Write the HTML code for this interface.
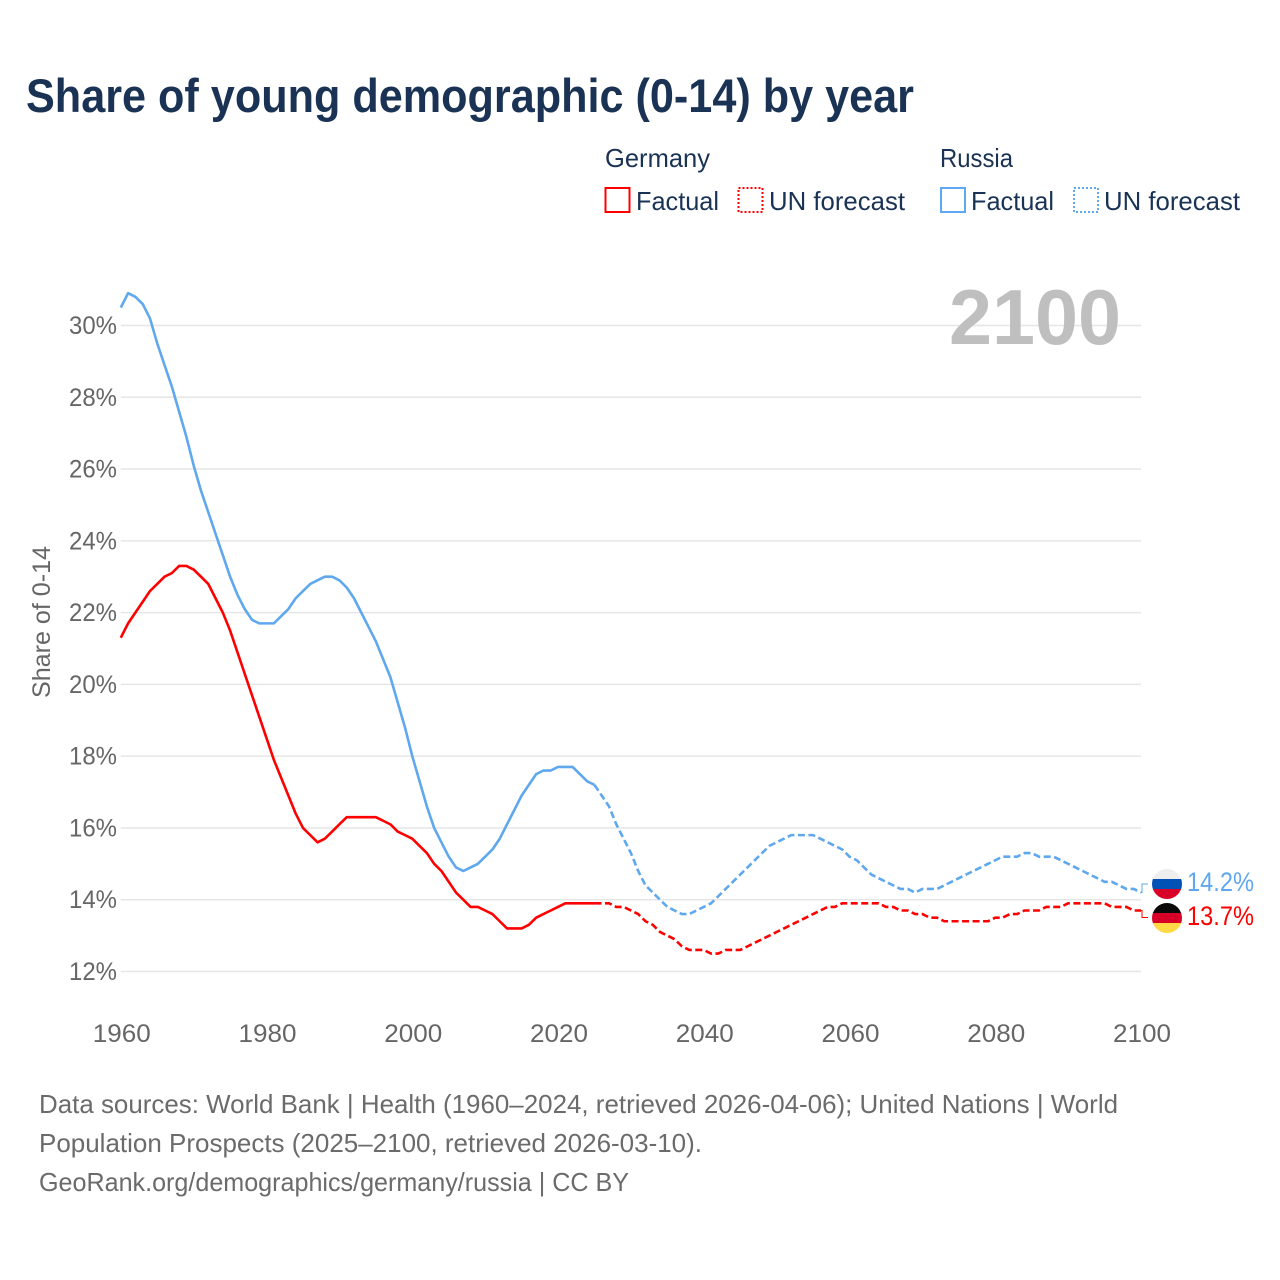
<!DOCTYPE html>
<html lang="en">
<head>
<meta charset="utf-8">
<title>Share of young demographic (0-14) by year</title>
<style>
html,body{margin:0;padding:0;background:#fff;width:1280px;height:1280px;overflow:hidden}
svg{display:block}
text{font-family:"Liberation Sans",sans-serif}
</style>
</head>
<body>
<svg id="chart" xmlns="http://www.w3.org/2000/svg" width="1280" height="1280" viewBox="0 0 1280 1280">
  <defs>
    <clipPath id="clip-ru"><circle cx="1167" cy="884" r="15"/></clipPath>
    <clipPath id="clip-de"><circle cx="1167" cy="918" r="15"/></clipPath>
  </defs>
  <rect width="1280" height="1280" fill="#fff"/>
  <text x="26" y="112" font-size="47" font-weight="700" fill="#1a3354" textLength="888" lengthAdjust="spacingAndGlyphs">Share of young demographic (0-14) by year</text>

  <g font-size="26" fill="#1a3354">
    <text x="605" y="167" textLength="105" lengthAdjust="spacingAndGlyphs">Germany</text>
    <text x="940" y="167" textLength="73" lengthAdjust="spacingAndGlyphs">Russia</text>
    <rect x="605.5" y="188" width="24" height="24" fill="none" stroke="#ff0000" stroke-width="2"/>
    <text x="636" y="210" textLength="83" lengthAdjust="spacingAndGlyphs">Factual</text>
    <rect x="738.5" y="188" width="24" height="24" fill="none" stroke="#ff0000" stroke-width="2" stroke-dasharray="2 2"/>
    <text x="769" y="210" textLength="136" lengthAdjust="spacingAndGlyphs">UN forecast</text>
    <rect x="941" y="188" width="24" height="24" fill="none" stroke="#5fa8ee" stroke-width="2"/>
    <text x="971" y="210" textLength="83" lengthAdjust="spacingAndGlyphs">Factual</text>
    <rect x="1074" y="188" width="24" height="24" fill="none" stroke="#5fa8ee" stroke-width="2" stroke-dasharray="2 2"/>
    <text x="1104" y="210" textLength="136" lengthAdjust="spacingAndGlyphs">UN forecast</text>
  </g>

  <g id="grid"></g>
  <g id="yticks"></g>
  <g id="xticks"></g>

  <text transform="translate(50,622) rotate(-90)" text-anchor="middle" font-size="25" fill="#666666" textLength="152" lengthAdjust="spacingAndGlyphs">Share of 0-14</text>
  <text x="949" y="344" font-size="78" font-weight="700" fill="#bfbfbf" textLength="172" lengthAdjust="spacingAndGlyphs">2100</text>

  <g id="series"></g>

  <g clip-path="url(#clip-ru)">
    <rect x="1152" y="869" width="30" height="10" fill="#eeeeee"/>
    <rect x="1152" y="879" width="30" height="10" fill="#0052b4"/>
    <rect x="1152" y="889" width="30" height="10" fill="#d80027"/>
  </g>
  <g clip-path="url(#clip-de)">
    <rect x="1152" y="903" width="30" height="10" fill="#0a0a0a"/>
    <rect x="1152" y="913" width="30" height="10" fill="#d80027"/>
    <rect x="1152" y="923" width="30" height="10" fill="#ffda44"/>
  </g>
  <text x="1187" y="891" font-size="27" fill="#5fa8ee" textLength="67" lengthAdjust="spacingAndGlyphs">14.2%</text>
  <text x="1187" y="925" font-size="27" fill="#ff0000" textLength="67" lengthAdjust="spacingAndGlyphs">13.7%</text>

  <g font-size="26" fill="#6b6b6b">
    <text x="39" y="1113" textLength="1079" lengthAdjust="spacingAndGlyphs">Data sources: World Bank | Health (1960–2024, retrieved 2026-04-06); United Nations | World</text>
    <text x="39" y="1152" textLength="663" lengthAdjust="spacingAndGlyphs">Population Prospects (2025–2100, retrieved 2026-03-10).</text>
    <text x="39" y="1191" textLength="590" lengthAdjust="spacingAndGlyphs">GeoRank.org/demographics/germany/russia | CC BY</text>
  </g>
</svg>
<script>
const yTickValues = [12, 14, 16, 18, 20, 22, 24, 26, 28, 30];
const xTickYears = [1960, 1980, 2000, 2020, 2040, 2060, 2080, 2100];
const factualStartYear = 1960;
const forecastStartYear = 2025;
const germanyFactual = [21.3,21.7,22.0,22.3,22.6,22.8,23.0,23.1,23.3,23.3,23.2,23.0,22.8,22.4,22.0,21.5,20.9,20.3,19.7,19.1,18.5,17.9,17.4,16.9,16.4,16.0,15.8,15.6,15.7,15.9,16.1,16.3,16.3,16.3,16.3,16.3,16.2,16.1,15.9,15.8,15.7,15.5,15.3,15.0,14.8,14.5,14.2,14.0,13.8,13.8,13.7,13.6,13.4,13.2,13.2,13.2,13.3,13.5,13.6,13.7,13.8,13.9,13.9,13.9,13.9,13.9];
const russiaFactual = [30.5,30.9,30.8,30.6,30.2,29.5,28.9,28.3,27.6,26.9,26.1,25.4,24.8,24.2,23.6,23.0,22.5,22.1,21.8,21.7,21.7,21.7,21.9,22.1,22.4,22.6,22.8,22.9,23.0,23.0,22.9,22.7,22.4,22.0,21.6,21.2,20.7,20.2,19.5,18.8,18.0,17.3,16.6,16.0,15.6,15.2,14.9,14.8,14.9,15.0,15.2,15.4,15.7,16.1,16.5,16.9,17.2,17.5,17.6,17.6,17.7,17.7,17.7,17.5,17.3,17.2];
const germanyForecast = [13.9,13.9,13.9,13.8,13.8,13.7,13.6,13.4,13.3,13.1,13.0,12.9,12.7,12.6,12.6,12.6,12.5,12.5,12.6,12.6,12.6,12.7,12.8,12.9,13.0,13.1,13.2,13.3,13.4,13.5,13.6,13.7,13.8,13.8,13.9,13.9,13.9,13.9,13.9,13.9,13.8,13.8,13.7,13.7,13.6,13.6,13.5,13.5,13.4,13.4,13.4,13.4,13.4,13.4,13.4,13.5,13.5,13.6,13.6,13.7,13.7,13.7,13.8,13.8,13.8,13.9,13.9,13.9,13.9,13.9,13.9,13.8,13.8,13.8,13.7,13.7];
const russiaForecast = [17.2,16.9,16.6,16.1,15.7,15.3,14.8,14.4,14.2,14.0,13.8,13.7,13.6,13.6,13.7,13.8,13.9,14.1,14.3,14.5,14.7,14.9,15.1,15.3,15.5,15.6,15.7,15.8,15.8,15.8,15.8,15.7,15.6,15.5,15.4,15.2,15.1,14.9,14.7,14.6,14.5,14.4,14.3,14.3,14.2,14.3,14.3,14.3,14.4,14.5,14.6,14.7,14.8,14.9,15.0,15.1,15.2,15.2,15.2,15.3,15.3,15.2,15.2,15.2,15.1,15.0,14.9,14.8,14.7,14.6,14.5,14.5,14.4,14.3,14.3,14.2];

const NS = 'http://www.w3.org/2000/svg';
function xScale(year) { return 120.8 + (year - 1960) * (1141 - 120.8) / 140; }
function yScale(pct) { return 971.5 - (pct - 12) * (971.5 - 325.5) / 18; }
function pointsFor(values, startYear) {
  return values.map(function (v, i) {
    return xScale(startYear + i).toFixed(2) + ',' + yScale(v).toFixed(2);
  }).join(' ');
}

const gridGroup = document.getElementById('grid');
const yTickGroup = document.getElementById('yticks');
yTickValues.forEach(function (tick) {
  const line = document.createElementNS(NS, 'line');
  
  
  line.setAttribute('x1', xScale(1960));
  line.setAttribute('x2', xScale(2100));
  line.setAttribute('y1', yScale(tick));
  line.setAttribute('y2', yScale(tick));
  line.setAttribute('stroke', '#e6e6e6');
  line.setAttribute('stroke-width', '1.5');
  gridGroup.appendChild(line);
  const label = document.createElementNS(NS, 'text');
  
  
  label.setAttribute('x', 69);
  label.setAttribute('y', yScale(tick) + 8.5);
  label.setAttribute('font-size', '25');
  label.setAttribute('fill', '#666666');
  label.setAttribute('textLength', '48');
  label.setAttribute('lengthAdjust', 'spacingAndGlyphs');
  label.textContent = tick + '%';
  yTickGroup.appendChild(label);
});

const xTickGroup = document.getElementById('xticks');
xTickYears.forEach(function (year) {
  const label = document.createElementNS(NS, 'text');
  
  
  label.setAttribute('x', xScale(year) - 28);
  label.setAttribute('y', 1042);
  label.setAttribute('font-size', '25');
  label.setAttribute('fill', '#666666');
  label.setAttribute('textLength', '58');
  label.setAttribute('lengthAdjust', 'spacingAndGlyphs');
  label.textContent = year;
  xTickGroup.appendChild(label);
});

const seriesGroup = document.getElementById('series');
function drawLine(values, startYear, color, dashed, name) {
  const line = document.createElementNS(NS, 'polyline');
  
  
  line.setAttribute('points', pointsFor(values, startYear));
  line.setAttribute('fill', 'none');
  line.setAttribute('stroke', color);
  line.setAttribute('stroke-width', '2.6');
  line.setAttribute('stroke-linejoin', 'round');
  if (dashed) { line.setAttribute('stroke-dasharray', '7 3.5'); }
  seriesGroup.appendChild(line);
}
drawLine(russiaFactual, factualStartYear, '#5fa8ee', false, 'russia-factual-line');
drawLine(germanyFactual, factualStartYear, '#ff0000', false, 'germany-factual-line');
drawLine(russiaForecast, forecastStartYear, '#5fa8ee', true, 'russia-forecast-line');
drawLine(germanyForecast, forecastStartYear, '#ff0000', true, 'germany-forecast-line');

function drawConnector(value, labelY, color, name) {
  const x0 = xScale(2100);
  const path = document.createElementNS(NS, 'polyline');
  
  
  path.setAttribute('points', x0 + ',' + yScale(value) + ' ' + (x0 + 1) + ',' + yScale(value) + ' ' + (x0 + 1) + ',' + labelY + ' 1148,' + labelY);
  path.setAttribute('fill', 'none');
  path.setAttribute('stroke', color);
  path.setAttribute('stroke-width', '1');
  seriesGroup.appendChild(path);
}
drawConnector(russiaForecast[russiaForecast.length - 1], 884, '#5fa8ee', 'russia-label-connector');
drawConnector(germanyForecast[germanyForecast.length - 1], 917.5, '#ff0000', 'germany-label-connector');
</script>
</body>
</html>
